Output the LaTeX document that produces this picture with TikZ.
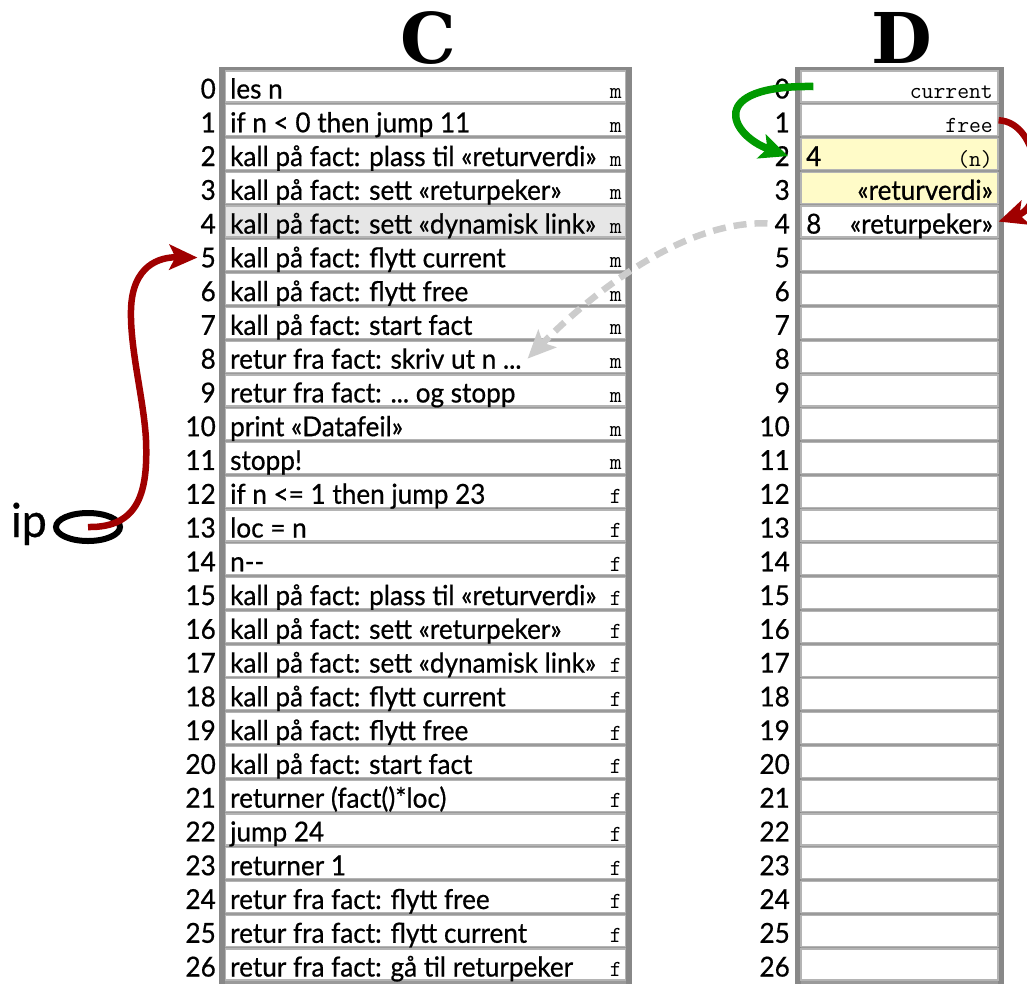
\documentclass[tikz,border=0pt]{standalone}
\usepackage{fontspec}
\setsansfont{Lato}[FakeStretch=0.95,FakeBold=0.6]
\newfontfamily\titlefont{DejaVu Serif}
\usetikzlibrary{positioning,arrows.meta,shapes.geometric}

\definecolor{framegray}{HTML}{888888}
\definecolor{gapgray}{HTML}{9A9A9A}
\definecolor{cellgray}{HTML}{B4B4B4}
\definecolor{hlgray}{HTML}{E6E6E6}
\definecolor{hlyellow}{HTML}{FFFBC8}
\definecolor{ipred}{HTML}{A00000}
\definecolor{curgreen}{HTML}{009A00}
\definecolor{linkgray}{HTML}{CCCCCC}
\newcommand\tdots{...}

\begin{document}
\begin{tikzpicture}[x=1pt,y=-1pt
		,every node/.append style={inner sep=0pt}
		,frame/.style={draw=framegray, line width=5.5pt, fill=gapgray}
		,cell/.style={draw=cellgray, line width=1.2pt, minimum height=31pt, minimum width=#1}
		,num/.style={anchor=base east, font=\sffamily\fontsize{27.5}{27.5}\selectfont}
		,txt/.style={anchor=base west, font=\sffamily\fontsize{27.5}{27.5}\selectfont}
		,tag/.style={anchor=base east, font=\ttfamily\fontsize{23}{23}\selectfont}
		,title/.style={anchor=base, font=\titlefont\bfseries\fontsize{70}{70}\selectfont}
		,ptr/.style={line width=6.5pt, -{Stealth[length=28pt,width=25pt,inset=6pt]}}
	]
	\useasboundingbox (0,0) rectangle (1027,983);

	% C: the program
	\node [title] (Ctitle) at (428,63) {C};
	\draw [frame] (222,70) rectangle (629,1000);
	\foreach \t [count=\i from 0] in {les n, if n < 0 then jump 11,
			kall på fact: plass til «returverdi», kall på fact: sett «returpeker»,
			kall på fact: sett «dynamisk link», kall på fact: flytt current,
			kall på fact: flytt free, kall på fact: start fact,
			retur fra fact: skriv ut n \tdots, retur fra fact: \tdots\ og stopp,
			print «Datafeil», stopp!, if n <= 1 then jump 23, loc = n, n-{}-,
			kall på fact: plass til «returverdi», kall på fact: sett «returpeker»,
			kall på fact: sett «dynamisk link», kall på fact: flytt current,
			kall på fact: flytt free, kall på fact: start fact,
			returner (fact()*loc), jump 24, returner 1,
			retur fra fact: flytt free, retur fra fact: flytt current,
			retur fra fact: gå til returpeker} {
		\pgfmathsetmacro\yc{86.5+33.77*\i}
		\ifnum\i=4 \colorlet{rowfill}{hlgray}\else\colorlet{rowfill}{white}\fi
		\node [cell=400pt, fill=rowfill] (c\i) at (425.5,\yc) {};
		\node [num] (cn\i) at (216,\yc+12) {\i};
		\node [txt] (ct\i) at (230,\yc+12) {\t};
		\node [tag] (cm\i) at (622,\yc+12) {\ifnum\i<12 m\else f\fi};
	}

	% D: the data
	\node [title] (Dtitle) at (902,63) {D};
	\draw [frame] (798,70) rectangle (1001,1000);
	\foreach \i in {0,...,26} {
		\pgfmathsetmacro\yc{86.5+33.77*\i}
		\colorlet{rowfill}{white}
		\ifnum\i=2 \colorlet{rowfill}{hlyellow}\fi
		\ifnum\i=3 \colorlet{rowfill}{hlyellow}\fi
		\node [cell=197pt, fill=rowfill] (d\i) at (899.5,\yc) {};
		\node [num] (dn\i) at (790,\yc+12) {\i};
	}
	\node [tag] (dcur) at (993,98.5) {current};
	\node [tag] (dfree) at (993,132.3) {free};
	\node [txt] (dval2) at (806,166) {4};
	\node [tag] (dparam) at (993,166) {(n)};
	\node [num] (dretv) at (993,199.8) {«returverdi»};
	\node [txt] (dval4) at (806,233.6) {8};
	\node [num] (dretp) at (993,233.6) {«returpeker»};

	% ip
	\node [anchor=base east, font=\sffamily\fontsize{47}{47}\selectfont] (iplabel) at (47,537) {ip};
	\node [ellipse, draw, line width=6pt, minimum width=64pt, minimum height=28pt] (ipbox) at (88,527) {};

	% pointers
	\draw [ptr, ipred, shorten >=3pt] (ipbox.center) .. controls (140,528) and (148,490) .. (146,440)
		.. controls (144,400) and (130,350) .. (131,310)
		.. controls (132,265) and (160,257) .. (cn5.west);
	\draw [ptr, curgreen, line width=7.5pt] ([xshift=13pt]d0.west) .. controls (705,85) and (730,135) .. ([xshift=-2pt]dn2.east);
	\draw [ptr, ipred] (d1.east) .. controls (1040,122) and (1048,205) .. (d4.east);
	\draw [ptr, linkgray, dash pattern=on 13pt off 8pt, shorten <=7pt] (dn4.west) .. controls (680,220) and (585,300) .. ([xshift=6pt]ct8.east);
\end{tikzpicture}
\end{document}
